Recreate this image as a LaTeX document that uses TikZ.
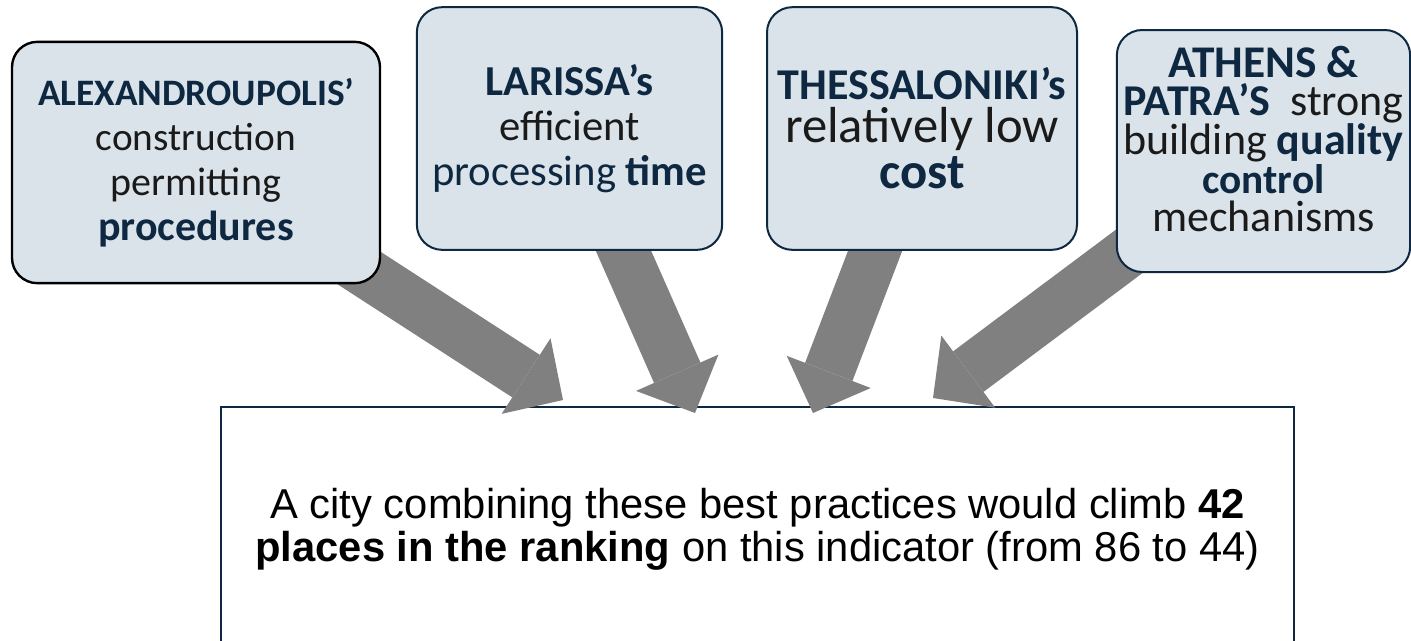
\documentclass[tikz,border=0pt]{standalone}
\usepackage{fontspec}
\setmainfont{Carlito}
\newfontfamily\arialfont{Liberation Sans}
\usetikzlibrary{arrows.meta}

\definecolor{boxfill}{RGB}{218,227,233}
\definecolor{navy}{RGB}{14,40,65}
\definecolor{arrowgray}{RGB}{128,128,128}
\definecolor{ink}{RGB}{26,26,26}

\pgfdeclarelayer{back}
\pgfdeclarelayer{mid}
\pgfsetlayers{back,mid,main}

\newcommand{\hl}[1]{\textbf{\color{navy}#1}}
\newcommand{\fsz}[1]{\fontsize{#1}{33.75}\selectfont}

\begin{document}
\begin{tikzpicture}[x=0.75pt,y=0.75pt,yscale=-1,
  city/.style={draw=navy, line width=1.5pt, fill=boxfill, rounded corners=19pt,
    align=center, text=ink, inner sep=0pt},
  bigarrow/.style={draw=arrowgray, line width=38pt,
    -{Triangle[width=67.5pt,length=33pt,line width=0pt]}}]
\useasboundingbox (0,0) rectangle (1411,640);

%City boxes
\node[city, draw=black, line width=1.8pt, minimum width=276pt, minimum height=181pt,
  font=\fsz{29.5}] (alex) at (196,162.5)
  {{\fsz{28}\hl{ALEXANDROUPOLIS’}}\\construction\\{\fsz{30}permitting}\\{\fsz{31.5}\hl{procedures}}};
\node[city, minimum width=229pt, minimum height=182pt,
  font=\fsz{32}] (larissa) at (569.5,128.5)
  {\hl{LARISSA’s}\\efficient\\{\color{navy}processing} \hl{time}};
\node[city, minimum width=232.5pt, minimum height=182pt,
  font=\fontsize{38}{32}\selectfont] (thess) at (922,128.5)
  {{\fontsize{33}{32}\selectfont\hl{THESSALONIKI’s}}\\relatively low\\[3pt]\hl{cost}};
\node[city, minimum width=220pt, minimum height=181.5pt,
  font=\fontsize{33}{29}\selectfont] (athens) at (1263.5,151)
  {{\fontsize{34}{29}\selectfont\hl{ATHENS \&}}\\\hl{PATRA’S}\ \ strong\\building \hl{quality}\\
   {\fontsize{31}{29}\selectfont\hl{control}}\\mechanisms\\[-11pt]\mbox{}};

%Result box
\begin{pgfonlayer}{back}
\node[draw=navy, line width=1.9pt, fill=white, minimum width=805pt, minimum height=183pt,
  align=center, font=\arialfont\fontsize{31.3}{32.5}\selectfont] (result) at (757.5,529)
  {A city combining these best practices would climb \textbf{42}\\
   \textbf{places in the ranking} on this indicator (from 86 to 44)};
\end{pgfonlayer}

%Arrows
\coordinate (t1) at (563,400);
\coordinate (t2) at (695,413);
\coordinate (t3) at (813,413);
\coordinate (t4) at (933,398);
\begin{pgfonlayer}{mid}
\draw[bigarrow] (alex.center) -- (t1);
\draw[bigarrow] (larissa.center) -- (t2);
\draw[bigarrow] (thess.center) -- (t3);
\draw[bigarrow] (athens.center) -- (t4);
\end{pgfonlayer}

\end{tikzpicture}
\end{document}
